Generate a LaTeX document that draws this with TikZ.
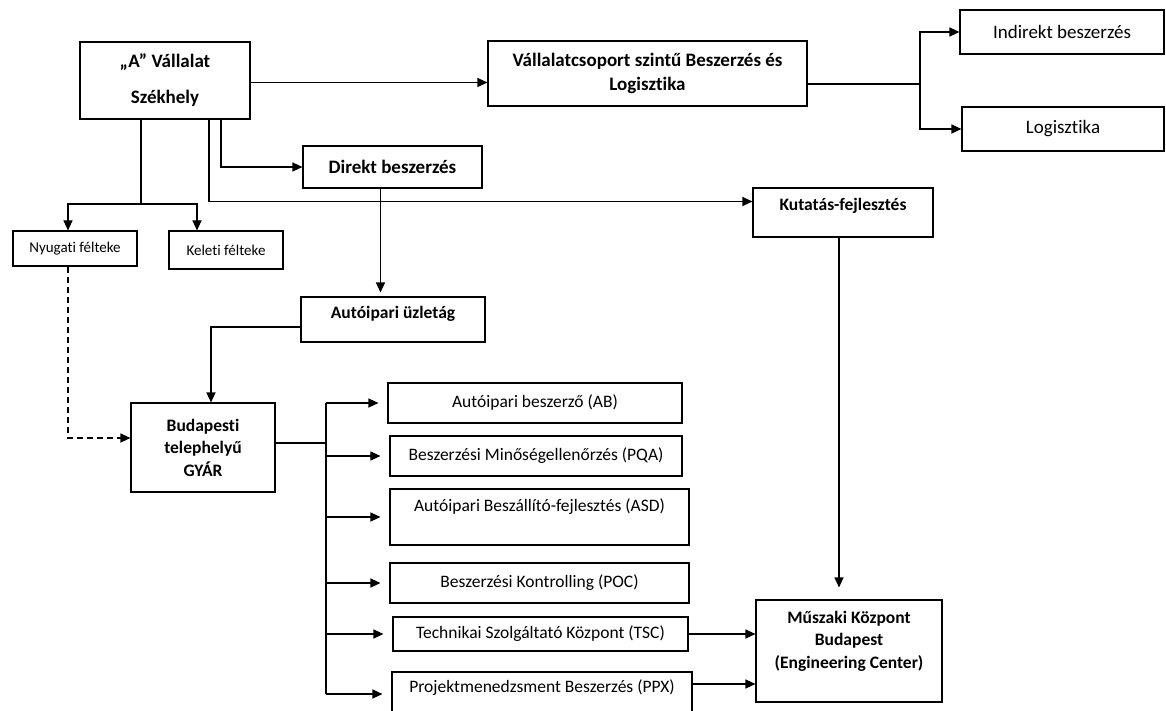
\documentclass[tikz,border=0pt]{standalone}
\usepackage{fontspec}
\setmainfont{Carlito}[Ligatures=NoCommon]
\usetikzlibrary{arrows.meta}

\tikzset{
    box/.style={draw, line width=1.1pt, rectangle, align=center, inner sep=2pt},
    lbl/.style={font=\fontsize{17.5}{21}\selectfont},
    blbl/.style={font=\bfseries\fontsize{17.5}{22.5}\selectfont},
    biglbl/.style={font=\fontsize{19}{23}\selectfont},
    bigblbl/.style={font=\bfseries\fontsize{19}{24}\selectfont},
    slbl/.style={font=\fontsize{15}{18}\selectfont},
    conn/.style={line width=1.1pt},
    arr/.style={conn, -{Triangle[length=10pt,width=9pt]}},
}

\begin{document}
\begin{tikzpicture}[x=1pt, y=-1pt]
        \clip (0,0) rectangle (1166,711);
        \fill[white] (0,0) rectangle (1166,711);

        % Head office and group level
        \node[box, bigblbl, minimum width=170, minimum height=77] (hq) at (165,80.5) {„A” Vállalat\\[12pt]Székhely};
        \node[box, bigblbl, minimum width=319, minimum height=65] (vcs) at (647.5,73.5) {Vállalatcsoport szintű Beszerzés és\\Logisztika};
        \node[box, biglbl, minimum width=204, minimum height=44] (ind) at (1062,32) {Indirekt beszerzés};
        \node[box, biglbl, minimum width=202, minimum height=44] (logi) at (1063,129) {Logisztika};

        % Second level
        \node[box, bigblbl, minimum width=179, minimum height=42] (dir) at (392.5,167) {Direkt beszerzés};
        \node[box, minimum width=180, minimum height=49] (kut) at (843,212.5) {};
        \node[blbl] (kut-t) at ([yshift=7pt]kut.center) {Kutatás-fejlesztés};
        \node[box, slbl, minimum width=124, minimum height=35] (nyu) at (75,248.5) {Nyugati félteke};
        \node[box, slbl, minimum width=114, minimum height=38] (kel) at (226,250) {Keleti félteke};
        \node[box, minimum width=184, minimum height=45] (auz) at (393,319.5) {};
        \node[blbl] (auz-t) at ([yshift=6pt]auz.center) {Autóipari üzletág};
        \node[box, blbl, minimum width=144, minimum height=89] (bud) at (203,447.5) {Budapesti\\telephelyű\\GYÁR};

        % Departments of the plant
        \node[box, lbl, minimum width=294, minimum height=40] (ab) at (535,403) {Autóipari beszerző (AB)};
        \node[box, lbl, minimum width=292, minimum height=40] (pqa) at (536,456) {Beszerzési Minőségellenőrzés (PQA)};
        \node[box, minimum width=299, minimum height=56] (asd) at (539.5,517) {};
        \node[lbl] (asd-t) at ([yshift=10pt]asd.center) {Autóipari Beszállító-fejlesztés (ASD)};
        \node[box, lbl, minimum width=299, minimum height=40] (poc) at (539.5,583) {Beszerzési Kontrolling (POC)};
        \node[box, lbl, minimum width=295, minimum height=34] (tsc) at (540.5,634) {Technikai Szolgáltató Központ (TSC)};
        \node[box, minimum width=300, minimum height=44] (ppx) at (542,694) {};
        \node[lbl] (ppx-t) at ([yshift=6pt]ppx.center) {Projektmenedzsment Beszerzés (PPX)};
        \node[box, minimum width=186, minimum height=102] (mk) at (849,651) {};
        \node[blbl, align=center] (mk-t) at ([yshift=10pt]mk.center) {Műszaki Központ\\Budapest\\(Engineering Center)};

        % Connectors from the head office
        \draw[arr] ([yshift=-2pt]hq.east) -- ([yshift=-2pt]hq.east -| vcs.west);
        \coordinate (split) at (920,84);
        \draw[conn] (vcs.east |- split) -- (split);
        \draw[arr] (split) |- (ind.west);
        \draw[arr] (split) |- (logi.west);

        \coordinate (hqsplit) at (141,204);
        \draw[conn] (hq.south -| hqsplit) -- (hqsplit);
        \draw[arr] (hqsplit) -| ([xshift=-7pt]nyu.north);
        \draw[arr] (hqsplit) -| ([xshift=-29pt]kel.north);
        \draw[arr] ([xshift=56pt]hq.south) |- (dir.west);
        \draw[arr] ([xshift=44pt]hq.south) |- ([yshift=11pt]kut.west);

        % Down to the plant
        \draw[arr, shorten >=4pt] ([xshift=-12pt]dir.south) -- ([xshift=-12pt]dir.south |- auz.north);
        \draw[arr] ([yshift=-7.5pt]auz.west) -| ([xshift=8pt]bud.north);
        \draw[arr, dash pattern=on 6pt off 4pt] ([xshift=-7pt]nyu.south) |- ([yshift=9.5pt]bud.west);

        % Plant departments
        \coordinate (bus) at (326,443);
        \draw[conn] ([yshift=4.5pt]bud.east) -- (bus);
        \draw[conn] (bus |- ab.west) -- (bus |- ppx.west);
        \foreach \n in {ab,pqa,asd,poc,tsc,ppx}
            \draw[arr, shorten >=9pt] (bus |- \n.west) -- (\n.west);

        % Engineering center
        \draw[arr, shorten >=12pt] ([xshift=-4pt]kut.south) -- ([xshift=-4pt]kut.south |- mk.north);
        \draw[arr] (tsc.east) -- (tsc.east -| mk.west);
        \draw[arr] ([yshift=10pt]ppx.east) -- ([yshift=10pt]ppx.east -| mk.west);
\end{tikzpicture}
\end{document}
